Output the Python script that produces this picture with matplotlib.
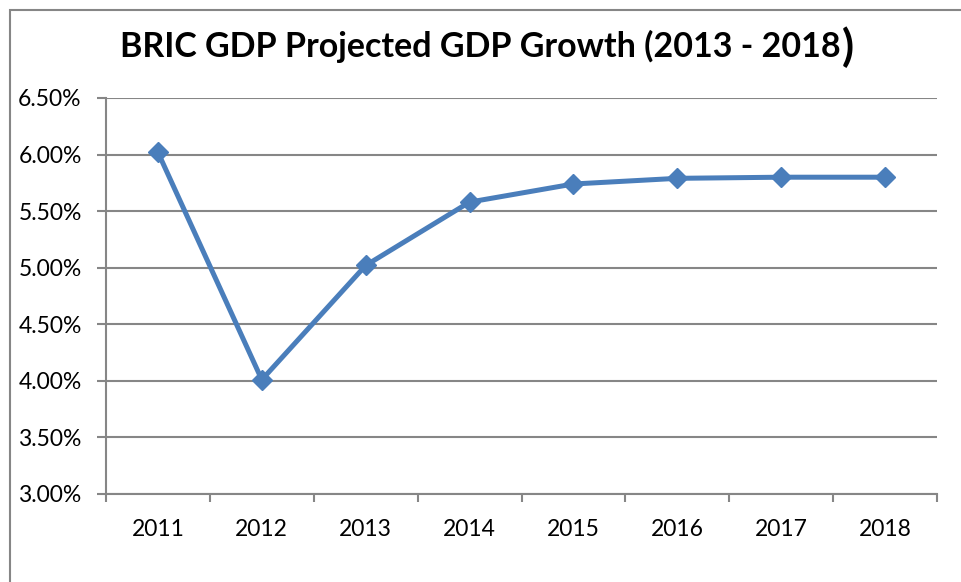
import matplotlib
matplotlib.use("Agg")
import matplotlib.pyplot as plt
from matplotlib.patches import Rectangle
from matplotlib.ticker import FixedLocator, FuncFormatter

# BRIC projected GDP growth, percent
years = ["2011", "2012", "2013", "2014", "2015", "2016", "2017", "2018"]
growth = [6.02, 4.01, 5.02, 5.58, 5.74, 5.79, 5.80, 5.80]
y_ticks = [3.0, 3.5, 4.0, 4.5, 5.0, 5.5, 6.0, 6.5]

LINE = "#4A7EBB"
GRID = "#868686"
FONT = "Lato"

W, H = 961, 582
fig = plt.figure(figsize=(W / 100, H / 100), dpi=100)
fig.patch.set_facecolor("white")

# chart-area frame (right and bottom edges fall outside the canvas)
fig.patches.append(Rectangle((10 / W, -0.1), 1.2, 1 - 10 / H + 0.1,
                             transform=fig.transFigure, fill=False,
                             edgecolor=GRID, linewidth=1.5))

ax = fig.add_axes([106 / W, 1 - 494 / H, (937 - 106) / W, (494 - 98) / H])
x = list(range(len(years)))
ax.plot(x, growth, color=LINE, linewidth=3.6, marker="D", markersize=10,
        markerfacecolor=LINE, markeredgecolor=LINE, zorder=3, clip_on=False)

ax.set_xlim(-0.5, len(years) - 0.5)
ax.set_ylim(y_ticks[0], y_ticks[-1])

ax.yaxis.set_major_locator(FixedLocator(y_ticks))
ax.yaxis.set_major_formatter(FuncFormatter(lambda v, _: f"{v:.2f}%"))
ax.grid(axis="y", color=GRID, linewidth=1.5, zorder=0)

ax.set_xticks(x)
ax.set_xticklabels(years)
ax.set_xticks([i - 0.5 for i in range(len(years) + 1)], minor=True)
ax.tick_params(axis="x", which="major", length=0, pad=18)
ax.tick_params(axis="x", which="minor", length=6, width=1.5, color=GRID)
ax.tick_params(axis="y", length=6.5, width=1.5, color=GRID, pad=11)
for lab in ax.get_xticklabels() + ax.get_yticklabels():
    lab.set_fontfamily(FONT)
    lab.set_fontsize(16.5)
    lab.set_color("black")

for side in ("top", "right"):
    ax.spines[side].set_visible(False)
for side in ("left", "bottom"):
    ax.spines[side].set_color(GRID)
    ax.spines[side].set_linewidth(1.5)

# title; the closing bracket is set a size larger
title = fig.text(0.5, 1 - 57 / H, "BRIC GDP Projected GDP Growth (2013 - 2018",
                 ha="center", va="baseline", fontfamily=FONT,
                 fontweight="bold", fontsize=24.5)
fig.canvas.draw()
bb = title.get_window_extent()
fig.text(bb.x1 / W + 1 / W, 1 - 61 / H, ")", ha="left", va="baseline",
         fontfamily=FONT, fontweight="bold", fontsize=32)

fig.savefig("out.png", dpi=100)
